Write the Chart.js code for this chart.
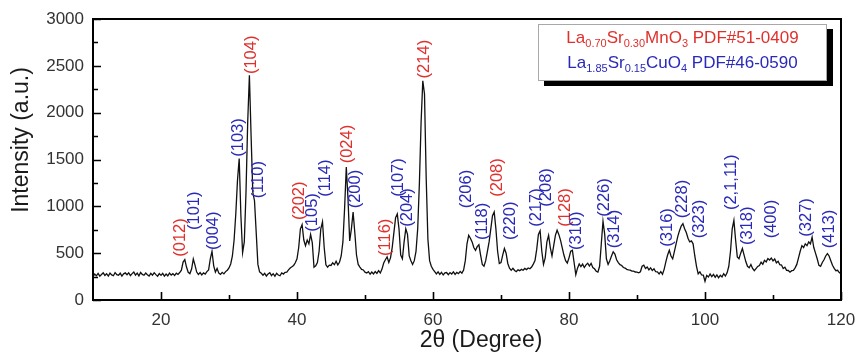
<!DOCTYPE html>
<html>
<head>
<meta charset="utf-8">
<script src="https://cdn.jsdelivr.net/npm/chart.js@4.4.1/dist/chart.umd.min.js"></script>
<style>
  html, body { margin: 0; padding: 0; background: #ffffff; }
  #xrd { display: block; }
</style>
</head>
<body>
<canvas id="xrd" width="858" height="352"></canvas>
<script>
// XRD pattern: intensity sampled every 0.25 degree of 2-theta, from 10 to 120
const thetaStart = 10;
const thetaStep = 0.25;
const intensity = [
  // 10 - 14.75
  250, 278, 258, 284, 254, 272, 290, 262, 281, 256, 287, 268, 259, 293, 271, 265, 286, 255, 279, 289,
  // 15 - 19.75
  270, 291, 260, 282, 298, 266, 287, 258, 294, 273, 264, 288, 270, 256, 285, 265, 291, 271, 254, 282,
  // 20 - 24.75
  263, 284, 255, 277, 258, 288, 266, 281, 261, 287, 273, 293, 318, 405, 432, 352, 296, 282, 330, 438,
  // 25 - 29.75
  372, 298, 273, 293, 267, 289, 276, 303, 322, 440, 520, 365, 298, 336, 287, 273, 295, 279, 303, 318,
  // 30 - 34.75
  342, 385, 470, 640, 920, 1280, 1510, 900, 505, 620, 1150, 1900, 2400, 1750, 1150, 1060, 720, 380, 300, 285,
  // 35 - 39.75
  265, 285, 256, 279, 292, 261, 281, 254, 286, 267, 259, 290, 277, 295, 298, 321, 342, 355, 369, 398,
  // 40 - 44.75
  440, 560, 760, 805, 640, 580, 640, 600, 700, 610, 350, 365, 400, 520, 760, 835, 560, 375, 350, 372,
  // 45 - 49.75
  369, 398, 377, 413, 375, 403, 470, 620, 980, 1420, 1080, 630, 760, 940, 720, 480, 380, 352, 327, 321,
  // 50 - 54.75
  297, 288, 302, 275, 299, 279, 303, 284, 313, 289, 330, 395, 430, 460, 400, 450, 560, 720, 880, 920,
  // 55 - 59.75
  760, 480, 440, 620, 760, 700, 470, 420, 380, 420, 520, 760, 1250, 1900, 2340, 2200, 1300, 650, 420, 360,
  // 60 - 64.75
  327, 303, 279, 301, 273, 295, 267, 291, 293, 271, 293, 278, 301, 273, 295, 281, 305, 287, 320, 420,
  // 65 - 69.75
  600, 690, 660, 620, 560, 530, 570, 590, 480, 380, 360, 420, 520, 620, 760, 900, 940, 760, 520, 390,
  // 70 - 74.75
  400, 480, 550, 500, 390, 340, 317, 338, 315, 303, 322, 313, 327, 318, 337, 325, 342, 333, 352, 383,
  // 75 - 79.75
  420, 540, 700, 740, 520, 380, 450, 620, 690, 560, 470, 580, 690, 745, 700, 640, 560, 480, 420, 395,
  // 80 - 84.75
  450, 520, 530, 400, 270, 340, 385, 357, 383, 347, 375, 392, 362, 391, 347, 333, 307, 298, 360, 600,
  // 85 - 89.75
  840, 700, 440, 380, 420, 470, 515, 490, 430, 400, 377, 368, 347, 341, 327, 321, 319, 308, 309, 299,
  // 90 - 94.75
  297, 291, 302, 360, 372, 337, 353, 322, 343, 315, 333, 302, 301, 279, 303, 275, 330, 410, 480, 530,
  // 95 - 99.75
  470, 440, 520, 600, 680, 740, 790, 815, 760, 720, 660, 620, 630, 600, 470, 360, 280, 300, 267, 265,
  // 100 - 104.75
  200, 263, 245, 278, 249, 273, 243, 268, 237, 265, 247, 281, 255, 290, 360, 520, 760, 850, 640, 460,
  // 105 - 109.75
  440, 500, 550, 480, 410, 360, 345, 380, 337, 313, 335, 358, 369, 403, 382, 423, 407, 443, 427, 448,
  // 110 - 114.75
  417, 438, 397, 413, 377, 373, 337, 351, 317, 315, 297, 313, 317, 343, 380, 450, 520, 580, 560, 600,
  // 115 - 119.75
  580, 620, 600, 670, 560, 500, 440, 370, 360, 400, 430, 470, 495, 470, 420, 370, 337, 313, 317, 293,
  // 120
  280
];

// Axis ticks
const xMajorTicks = [20, 40, 60, 80, 100, 120];
const xMinorTicks = [30, 50, 70, 90, 110];
const yMajorTicks = [0, 500, 1000, 1500, 2000, 2500, 3000];
const yMinorTicks = [250, 750, 1250, 1750, 2250, 2750];

// Miller-index labels: text, 2-theta of the label, intensity at the label's lower end, phase
const peakText  = ['(012)', '(101)', '(004)', '(103)', '(104)', '(110)', '(202)', '(105)', '(114)', '(024)', '(200)',
                   '(116)', '(107)', '(204)', '(214)', '(206)', '(118)', '(208)', '(220)', '(217)', '(208)',
                   '(128)', '(310)', '(226)', '(314)', '(316)', '(228)', '(323)', '(2,1,11)', '(318)', '(400)',
                   '(327)', '(413)'];
const peakTheta = [22.7, 24.75, 27.5, 31.3, 33.2, 34.2, 40.2, 42.1, 44.1, 47.3, 48.4,
                   52.9, 54.7, 56.1, 58.6, 64.8, 67.1, 69.4, 71.2, 75.0, 76.6,
                   79.4, 81.0, 85.1, 86.5, 94.4, 96.6, 99.0, 103.8, 106.1, 109.6,
                   114.7, 118.1];
const peakLabelY = [462, 747, 534, 1529, 2412, 1085, 854, 729, 1102, 1459, 979,
                    470, 1102, 782, 2366, 979, 640, 1102, 640, 782, 996,
                    782, 534, 889, 552, 569, 872, 658, 960, 587, 658,
                    676, 552];
const peakPhase = ['M', 'C', 'C', 'C', 'M', 'C', 'M', 'C', 'C', 'M', 'C',
                   'M', 'C', 'C', 'M', 'C', 'C', 'M', 'C', 'C', 'C',
                   'M', 'C', 'C', 'C', 'C', 'C', 'C', 'C', 'C', 'C',
                   'C', 'C'];

// Reference phases: formula pieces (second item 1 = subscript) and card number
const phaseKeys = ['M', 'C'];
const phaseFormula = [
  [['La', 0], ['0.70', 1], ['Sr', 0], ['0.30', 1], ['MnO', 0], ['3', 1]],
  [['La', 0], ['1.85', 1], ['Sr', 0], ['0.15', 1], ['CuO', 0], ['4', 1]]
];
const phaseCard = [' PDF#51-0409', ' PDF#46-0590'];

const xTitle = '2\u03b8 (Degree)';
const yTitle = 'Intensity (a.u.)';

// ---- drawing ----
const RED = '#e0302c';
const BLUE = '#2a2ab8';
const phaseColor = { M: RED, C: BLUE };
const FONT = '"Liberation Sans", Arial, sans-serif';

const points = intensity.map((v, i) => ({ x: thetaStart + i * thetaStep, y: v }));

const overlay = {
  id: 'overlay',
  afterDatasetsDraw(chart) {
    const { ctx, chartArea: a, scales: { x, y } } = chart;
    ctx.save();

    // inward tick marks
    ctx.strokeStyle = '#000';
    ctx.lineWidth = 1.6;
    ctx.beginPath();
    xMajorTicks.forEach(v => { const px = Math.round(x.getPixelForValue(v)) + 0.5; ctx.moveTo(px, a.bottom); ctx.lineTo(px, a.bottom - 8); });
    xMinorTicks.forEach(v => { const px = Math.round(x.getPixelForValue(v)) + 0.5; ctx.moveTo(px, a.bottom); ctx.lineTo(px, a.bottom - 5); });
    yMajorTicks.forEach(v => { const py = Math.round(y.getPixelForValue(v)) + 0.5; ctx.moveTo(a.left, py); ctx.lineTo(a.left + 8, py); });
    yMinorTicks.forEach(v => { const py = Math.round(y.getPixelForValue(v)) + 0.5; ctx.moveTo(a.left, py); ctx.lineTo(a.left + 5, py); });
    ctx.stroke();

    // frame
    ctx.lineWidth = 2;
    ctx.strokeRect(a.left, a.top, a.right - a.left, a.bottom - a.top);

    // Miller-index labels, rotated
    ctx.font = '16.5px ' + FONT;
    ctx.textAlign = 'left';
    ctx.textBaseline = 'middle';
    peakText.forEach((t, i) => {
      ctx.save();
      ctx.translate(x.getPixelForValue(peakTheta[i]), y.getPixelForValue(peakLabelY[i]));
      ctx.rotate(-Math.PI / 2);
      ctx.fillStyle = phaseColor[peakPhase[i]];
      ctx.fillText(t, 0, 1);
      ctx.restore();
    });

    // phase legend box with drop shadow
    const bx = 538, by = 24, bw = 289, bh = 57;
    ctx.fillStyle = '#000';
    ctx.fillRect(bx + 6, by + 5, bw, bh);
    ctx.fillStyle = '#fff';
    ctx.fillRect(bx, by, bw, bh);
    ctx.strokeStyle = '#a8a8a8';
    ctx.lineWidth = 1;
    ctx.strokeRect(bx + 0.5, by + 0.5, bw - 1, bh - 1);

    const mainFont = '17px ' + FONT;
    const subFont = '11px ' + FONT;
    ctx.textAlign = 'left';
    ctx.textBaseline = 'alphabetic';
    phaseKeys.forEach((k, r) => {
      const parts = phaseFormula[r].concat([[phaseCard[r], 0]]);
      let w = 0;
      parts.forEach(([s, sub]) => { ctx.font = sub ? subFont : mainFont; w += ctx.measureText(s).width; });
      let cx = bx + bw / 2 - w / 2;
      const base = by + 19 + r * 25;
      ctx.fillStyle = phaseColor[k];
      parts.forEach(([s, sub]) => {
        ctx.font = sub ? subFont : mainFont;
        ctx.fillText(s, cx, base + (sub ? 4 : 0));
        cx += ctx.measureText(s).width;
      });
    });

    // axis titles
    ctx.fillStyle = '#1a1a1a';
    ctx.font = '23px ' + FONT;
    ctx.textAlign = 'center';
    ctx.textBaseline = 'middle';
    ctx.fillText(xTitle, 481, 341);
    ctx.save();
    ctx.translate(22, 140);
    ctx.rotate(-Math.PI / 2);
    ctx.fillText(yTitle, 0, 0);
    ctx.restore();

    ctx.restore();
  }
};

new Chart(document.getElementById('xrd'), {
  type: 'line',
  data: {
    datasets: [{
      data: points,
      borderColor: '#101010',
      borderWidth: 1.3,
      pointRadius: 0,
      tension: 0,
      fill: false
    }]
  },
  options: {
    responsive: false,
    animation: false,
    devicePixelRatio: 1,
    layout: { padding: { left: 0, right: 17, top: 19, bottom: 0 } },
    plugins: { legend: { display: false }, tooltip: { enabled: false } },
    scales: {
      x: {
        type: 'linear', min: 10, max: 120,
        afterFit(s) { s.height = 52; s.paddingLeft = 0; s.paddingRight = 0; },
        afterBuildTicks(s) { s.ticks = xMajorTicks.map(v => ({ value: v })); },
        grid: { display: false, drawTicks: false },
        border: { display: false },
        ticks: { color: '#333', padding: 10, maxRotation: 0, autoSkip: false, font: { family: FONT, size: 17 },
                 callback: v => String(v) }
      },
      y: {
        type: 'linear', min: 0, max: 3000,
        afterFit(s) { s.width = 93; s.paddingTop = 0; s.paddingBottom = 0; },
        afterBuildTicks(s) { s.ticks = yMajorTicks.map(v => ({ value: v })); },
        grid: { display: false, drawTicks: false },
        border: { display: false },
        ticks: { color: '#333', padding: 9, autoSkip: false, font: { family: FONT, size: 17 },
                 callback: v => String(v) }
      }
    }
  },
  plugins: [overlay]
});
</script>
</body>
</html>
